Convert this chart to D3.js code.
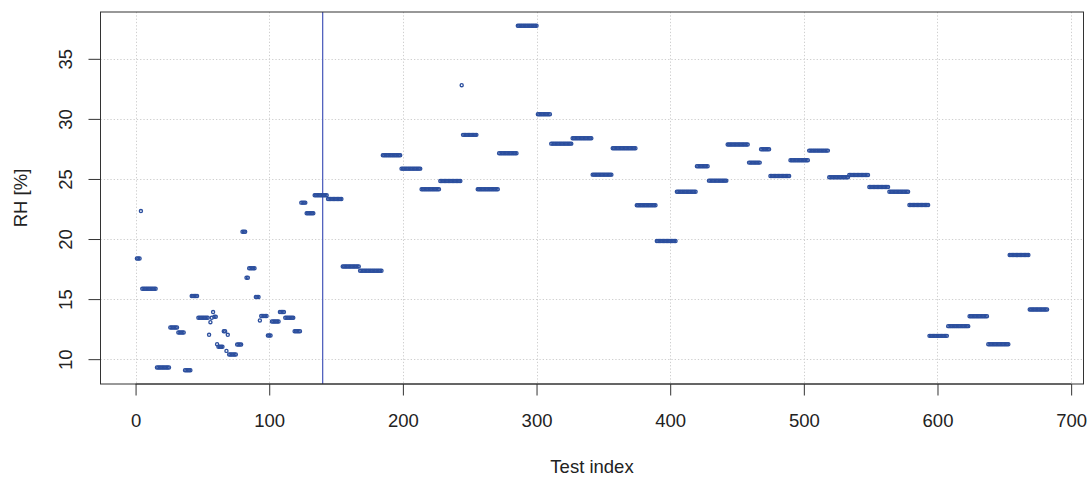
<!DOCTYPE html>
<html>
<head>
<meta charset="utf-8">
<script src="https://cdn.jsdelivr.net/npm/d3@7"></script>
<style>
  html, body { margin: 0; padding: 0; background: #fff; }
  svg { display: block; }
  text { font-family: "Liberation Sans", Arial, sans-serif; fill: #222; }
</style>
</head>
<body>
<svg id="chart" width="1089" height="478"></svg>
<script>
// Relative humidity per test: each run is a block of consecutive test indices sharing one RH reading
const runFirst = [1, 4, 5, 16, 26, 32, 37, 42, 47, 55, 56, 57, 58, 59, 61, 62, 66, 68, 69, 70,
  76, 80, 83, 85, 90, 93, 94, 99, 102, 108, 112, 119, 124, 128, 134, 144, 155, 168, 185, 199,
  214, 228, 244, 245, 256, 272, 286, 301, 311, 327, 342, 357, 375, 390, 405, 420, 429, 443, 459, 468,
  475, 490, 504, 519, 534, 549, 564, 579, 594, 608, 624, 638, 654, 669];
const runLast = [3, 4, 15, 25, 31, 36, 41, 46, 54, 55, 56, 57, 58, 60, 61, 65, 67, 68, 69, 75,
  79, 82, 84, 89, 92, 93, 98, 101, 107, 111, 118, 123, 127, 133, 143, 154, 167, 184, 198, 213,
  227, 243, 244, 255, 271, 285, 300, 310, 326, 341, 356, 374, 389, 404, 419, 428, 442, 458, 467, 474,
  489, 503, 518, 533, 548, 563, 578, 593, 607, 623, 637, 653, 668, 682];
const rhValue = [18.38, 22.33, 15.86, 9.31, 12.64, 12.22, 9.08, 15.25, 13.44, 12.03, 13.08, 13.44, 13.92, 13.53, 11.25, 11.03, 12.33, 10.69, 12.03, 10.39,
  11.22, 20.6, 16.78, 17.56, 15.17, 13.22, 13.6, 11.97, 13.14, 13.92, 13.44, 12.33, 23.03, 22.14, 23.64, 23.33, 17.72, 17.36, 26.97, 25.86,
  24.14, 24.83, 32.8, 28.67, 24.14, 27.14, 37.75, 30.39, 27.94, 28.39, 25.36, 27.56, 22.81, 19.83, 23.94, 26.06, 24.86, 27.86, 26.36, 27.47,
  25.25, 26.56, 27.36, 25.14, 25.33, 24.33, 23.94, 22.83, 11.94, 12.75, 13.58, 11.25, 18.67, 14.14];

const xTicks = [0, 100, 200, 300, 400, 500, 600, 700];
const yTicks = [10, 15, 20, 25, 30, 35];
const markerIndex = [140];
const xTitle = "Test index";
const yTitle = "RH [%]";

// one point per test index
const points = [];
runFirst.forEach((first, k) => {
  for (let i = first; i <= runLast[k]; i++) points.push({ index: i, rh: rhValue[k] });
});

const svg = d3.select("#chart");
const plot = { left: 100.5, right: 1083.5, top: 12, bottom: 384 };

// base-graphics style range: data extent padded by 4% on each side
function padded(ext) {
  const d = (ext[1] - ext[0]) * 0.04;
  return [ext[0] - d, ext[1] + d];
}
const x = d3.scaleLinear().domain(padded(d3.extent(points, p => p.index))).range([plot.left, plot.right]);
const y = d3.scaleLinear().domain(padded(d3.extent(points, p => p.rh))).range([plot.bottom, plot.top]);

// dotted grid
const grid = svg.append("g").attr("stroke", "#cfcfcf").attr("stroke-width", 1).attr("stroke-dasharray", "1.3,2");
grid.selectAll(".gx").data(xTicks).join("line")
  .attr("x1", d => Math.round(x(d)) + 0.5).attr("x2", d => Math.round(x(d)) + 0.5)
  .attr("y1", plot.top).attr("y2", plot.bottom);
grid.selectAll(".gy").data(yTicks).join("line")
  .attr("y1", d => Math.round(y(d)) + 0.5).attr("y2", d => Math.round(y(d)) + 0.5)
  .attr("x1", plot.left).attr("x2", plot.right);

// reference line
svg.append("g").selectAll("line").data(markerIndex).join("line")
  .attr("x1", d => x(d)).attr("x2", d => x(d))
  .attr("y1", plot.top).attr("y2", plot.bottom)
  .attr("stroke", "#4455b8").attr("stroke-width", 1.2);

// points (small open circles)
svg.append("g").selectAll("circle").data(points).join("circle")
  .attr("cx", d => x(d.index)).attr("cy", d => y(d.rh)).attr("r", 1.55)
  .attr("fill", "none").attr("stroke", "#2c4f9e").attr("stroke-width", 1.35);

// frame
svg.append("rect")
  .attr("x", plot.left).attr("y", plot.top)
  .attr("width", plot.right - plot.left).attr("height", plot.bottom - plot.top)
  .attr("fill", "none").attr("stroke", "#333").attr("stroke-width", 1);

// x axis
const gx = svg.append("g").attr("transform", `translate(0,${plot.bottom})`)
  .call(d3.axisBottom(x).tickValues(xTicks).tickSize(11.5).tickFormat(d3.format("d")));
gx.select(".domain").remove();
gx.append("line").attr("x1", x(xTicks[0])).attr("x2", x(xTicks[xTicks.length - 1]))
  .attr("stroke", "#333");
gx.selectAll(".tick line").attr("stroke", "#333");
gx.selectAll(".tick text").attr("y", 43).attr("dy", null)
  .style("font-size", "18.5px").style("font-family", "Liberation Sans, Arial, sans-serif").attr("fill", "#222");

// y axis with labels turned parallel to the axis
const gy = svg.append("g").attr("transform", `translate(${plot.left},0)`)
  .call(d3.axisLeft(y).tickValues(yTicks).tickSize(12).tickFormat(d3.format("d")));
gy.select(".domain").remove();
gy.append("line").attr("y1", y(yTicks[0])).attr("y2", y(yTicks[yTicks.length - 1]))
  .attr("stroke", "#333");
gy.selectAll(".tick line").attr("stroke", "#333");
gy.selectAll(".tick text")
  .attr("x", 0).attr("y", -28.5).attr("dy", null)
  .attr("transform", "rotate(-90)").attr("text-anchor", "middle")
  .style("font-size", "18.5px").style("font-family", "Liberation Sans, Arial, sans-serif").attr("fill", "#222");

// axis titles
svg.append("text").attr("x", (plot.left + plot.right) / 2).attr("y", 473)
  .attr("text-anchor", "middle").style("font-size", "18.5px").text(xTitle);
svg.append("text").attr("transform", `translate(27,${(plot.top + plot.bottom) / 2}) rotate(-90)`)
  .attr("text-anchor", "middle").style("font-size", "18.5px").text(yTitle);
</script>
</body>
</html>
